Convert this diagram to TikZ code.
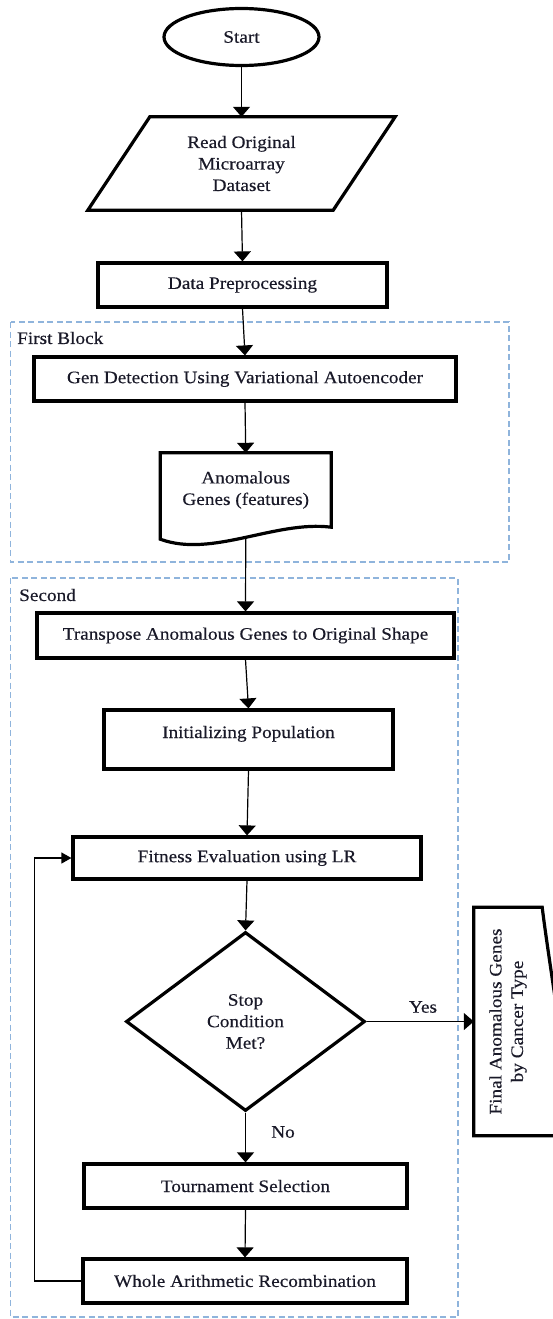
\documentclass[tikz,border=0pt]{standalone}
\usepackage{fontspec}
\setmainfont{Liberation Serif}[FakeStretch=1.1, FakeBold=0.4]
\usetikzlibrary{shapes.geometric,arrows.meta}
\definecolor{blockblue}{RGB}{143,180,220}
\definecolor{textink}{RGB}{25,25,40}

\begin{document}
\begin{tikzpicture}[
                    x=1pt, y=-1pt,
                    >={Triangle[width=17pt,length=10pt]},
                    font=\fontsize{17.5}{21.5}\selectfont,
                    every node/.style={text=textink},
                    procbox/.style={rectangle, draw, line width=3.2pt, inner sep=0pt, align=center},
                    startbox/.style={ellipse, draw, line width=3.2pt, inner sep=0pt, minimum width=155pt, minimum height=57pt},
                    shapebox/.style={inner sep=0pt, align=center},
                    decision/.style={diamond, draw, line width=3.2pt, inner sep=0pt, align=center, minimum width=239pt, minimum height=179pt},
                    outline/.style={line width=3.2pt, line join=miter},
                    flow/.style={->, line width=1.2pt},
                    blockline/.style={draw=blockblue, line width=1.6pt, dash pattern=on 6pt off 3.5pt},
                    blocklabel/.style={anchor=west, inner sep=0pt},
                    edgelabel/.style={inner sep=0pt}
            ]
                \useasboundingbox (0,0) rectangle (552,1319);

                % dashed blocks
                \draw[blockline] (10.5,322) rectangle (509,562);
                \draw[blockline] (10.5,578) rectangle (458,1317);
                \node[blocklabel] (firstlbl) at (17,338) {First Block};
                \node[blocklabel] (secondlbl) at (19,595) {Second};

                % nodes
                \node[startbox] (start) at (241.5,37) {Start};
                \node[shapebox, minimum width=245pt, minimum height=93pt] (read) at (241.5,163.5) {Read Original\\Microarray\\Dataset};
                \draw[outline] ([xshift=-31pt]read.south west) -- ([xshift=31pt]read.north west) -- ([xshift=31pt]read.north east) -- ([xshift=-31pt]read.south east) -- cycle;
                \node[procbox, minimum width=289pt, minimum height=44pt] (prep) at (242.5,285) {Data Preprocessing};
                \node[procbox, minimum width=422pt, minimum height=44pt] (gen) at (245,379) {Gen Detection Using Variational Autoencoder};
                \node[shapebox, minimum width=170.5pt, minimum height=74pt] (anom) at (245.75,490) {Anomalous\\Genes (features)};
                \draw[outline] (anom.north west) -- (anom.north east) -- (anom.south east) .. controls +(-56,-7) and +(51.5,19) .. ([yshift=-12pt]anom.south west) -- cycle;
                \node[procbox, minimum width=417pt, minimum height=45pt] (trans) at (245.5,635.5) {Transpose Anomalous Genes to Original Shape};
                \node[procbox, minimum width=289pt, text height=28pt, text depth=31pt] (init) at (248.5,739.5) {Initializing Population};
                \node[procbox, minimum width=348pt, minimum height=42pt] (fit) at (247,858) {Fitness Evaluation using LR};
                \node[decision] (stop) at (245.5,1021.5) {Stop\\Condition\\Met?};
                \node[shapebox, rotate=90, minimum width=228pt, minimum height=68pt] (final) at (508,1021.5) {Final Anomalous Genes\\by Cancer Type};
                \draw[outline] (final.north west) -- (final.north east) -- (final.south east) .. controls +(6,50) and +(-4,-60) .. ([xshift=30pt]final.south west) -- cycle;
                \node[procbox, minimum width=323pt, minimum height=44pt] (tour) at (245.5,1186) {Tournament Selection};
                \node[procbox, minimum width=324pt, minimum height=44pt] (whole) at (245,1281) {Whole Arithmetic Recombination};

                % connectors
                \draw[flow] (start.south) -- (read.north);
                \draw[flow] (read.south) -- (prep.north);
                \draw[flow] (prep.south) -- (gen.north);
                \draw[flow] (gen.south) -- (anom.north);
                \draw[flow] ([yshift=-10pt]anom.south) -- (trans.north);
                \draw[flow] (trans.south) -- (init.north);
                \draw[flow] (init.south) -- (fit.north);
                \draw[flow] (fit.south) -- (stop.north);
                \draw[flow] (stop.east) -- (final.north);
                \node[edgelabel] (yeslbl) at (423,1007) {Yes};
                \draw[flow] (stop.south) -- (tour.north);
                \node[edgelabel] (nolbl) at (283,1132) {No};
                \draw[flow] (tour.south) -- (whole.north);
                \draw[line width=1.2pt, -{Triangle[width=11pt,length=10pt]}] (whole.west) -- ++(-47,0) |- (fit.west);
            \end{tikzpicture}
\end{document}
